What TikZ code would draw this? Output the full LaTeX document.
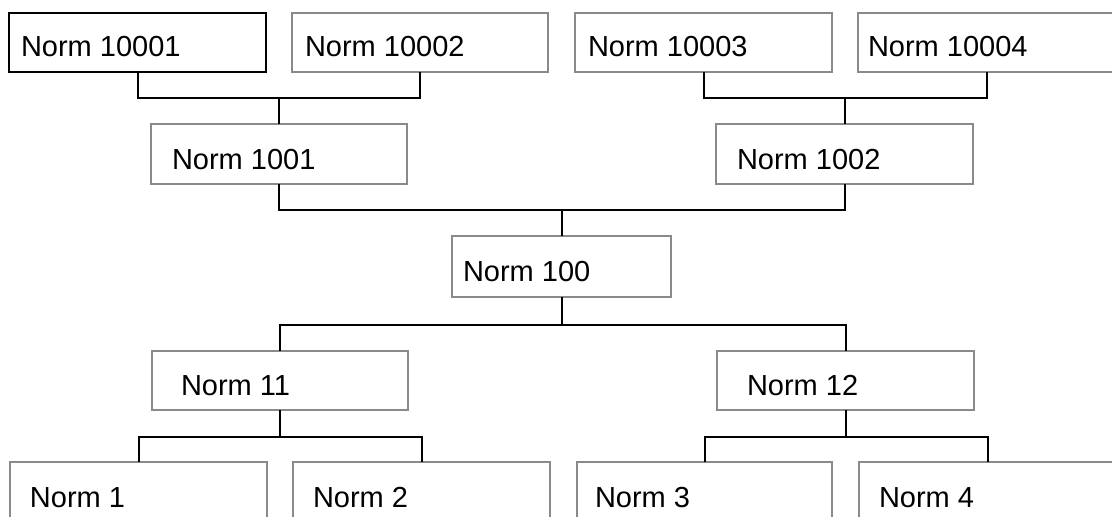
\documentclass[tikz,border=0pt]{standalone}
\usepackage{fontspec}
\setmainfont{Liberation Sans}
\usetikzlibrary{calc}
\definecolor{boxgray}{RGB}{138,138,138}
\tikzset{
  x=1pt, y=-1pt,
  box/.style={draw=boxgray, line width=2pt, fill=white, inner sep=0pt, outer sep=0pt},
  darkbox/.style={box, draw=black},
  lbl/.style={anchor=base west, inner sep=0pt, outer sep=0pt, font=\fontsize{29}{33}\selectfont},
  conn/.style={draw=black, line width=2pt}
}
\newcommand{\mkbox}[6]{% style, name, x1, y1, x2, y2
  \node[#1, minimum width=#5pt-#3pt, minimum height=#6pt-#4pt, anchor=north west] (#2) at (#3,#4) {};}
\begin{document}
\begin{tikzpicture}
\useasboundingbox (0,0) rectangle (1112,517);
\clip (0,0) rectangle (1112,517);
\fill[white] (0,0) rectangle (1112,517);
% boxes
\mkbox{darkbox}{n10001}{9}{13}{266}{72}
\mkbox{box}{n10002}{292}{13}{548}{72}
\mkbox{box}{n10003}{575}{13}{832}{72}
\mkbox{box}{n10004}{858}{13}{1115}{72}
\mkbox{box}{n1001}{151}{124}{407}{184}
\mkbox{box}{n1002}{716}{124}{973}{184}
\mkbox{box}{n100}{452}{236}{671}{297}
\mkbox{box}{n11}{152}{351}{408}{410}
\mkbox{box}{n12}{717}{351}{974}{410}
\mkbox{box}{n1}{10}{462}{267}{530}
\mkbox{box}{n2}{293}{462}{550}{530}
\mkbox{box}{n3}{577}{462}{832}{530}
\mkbox{box}{n4}{859}{462}{1116}{530}
% labels
\node[lbl] (t10001) at (21,56) {Norm 10001};
\node[lbl] (t10002) at (305,56) {Norm 10002};
\node[lbl] (t10003) at (588,56) {Norm 10003};
\node[lbl] (t10004) at (868,56) {Norm 10004};
\node[lbl] (t1001) at (172,169) {Norm 1001};
\node[lbl] (t1002) at (737,169) {Norm 1002};
\node[lbl] (t100) at (463,281) {Norm 100};
\node[lbl] (t11) at (181,395) {Norm 11};
\node[lbl] (t12) at (747,395) {Norm 12};
\node[lbl] (t1) at (30,507) {Norm 1};
\node[lbl] (t2) at (313,507) {Norm 2};
\node[lbl] (t3) at (595,507) {Norm 3};
\node[lbl] (t4) at (879,507) {Norm 4};
% junction coordinates
\coordinate (j1) at ($(n1001.north)+(0,-26)$);
\coordinate (j2) at ($(n1002.north)+(0,-26)$);
\coordinate (j3) at ($(n100.north)+(0,-26)$);
\coordinate (j4) at ($(n100.south)+(0,28)$);
\coordinate (j5) at ($(n11.south)+(0,27)$);
\coordinate (j6) at ($(n12.south)+(0,27)$);
% connectors
\draw[conn] (n10001.south) |- (j1) -| (n10002.south);
\draw[conn] (j1) -- (n1001.north);
\draw[conn] (n10003.south) |- (j2) -| (n10004.south);
\draw[conn] (j2) -- (n1002.north);
\draw[conn] (n1001.south) |- (j3) -| (n1002.south);
\draw[conn] (j3) -- (n100.north);
\draw[conn] (n100.south) -- (j4);
\draw[conn] (n11.north) |- (j4) -| (n12.north);
\draw[conn] (n11.south) -- (j5);
\draw[conn] (n1.north) |- (j5) -| (n2.north);
\draw[conn] (n12.south) -- (j6);
\draw[conn] (n3.north) |- (j6) -| (n4.north);
\end{tikzpicture}
\end{document}
